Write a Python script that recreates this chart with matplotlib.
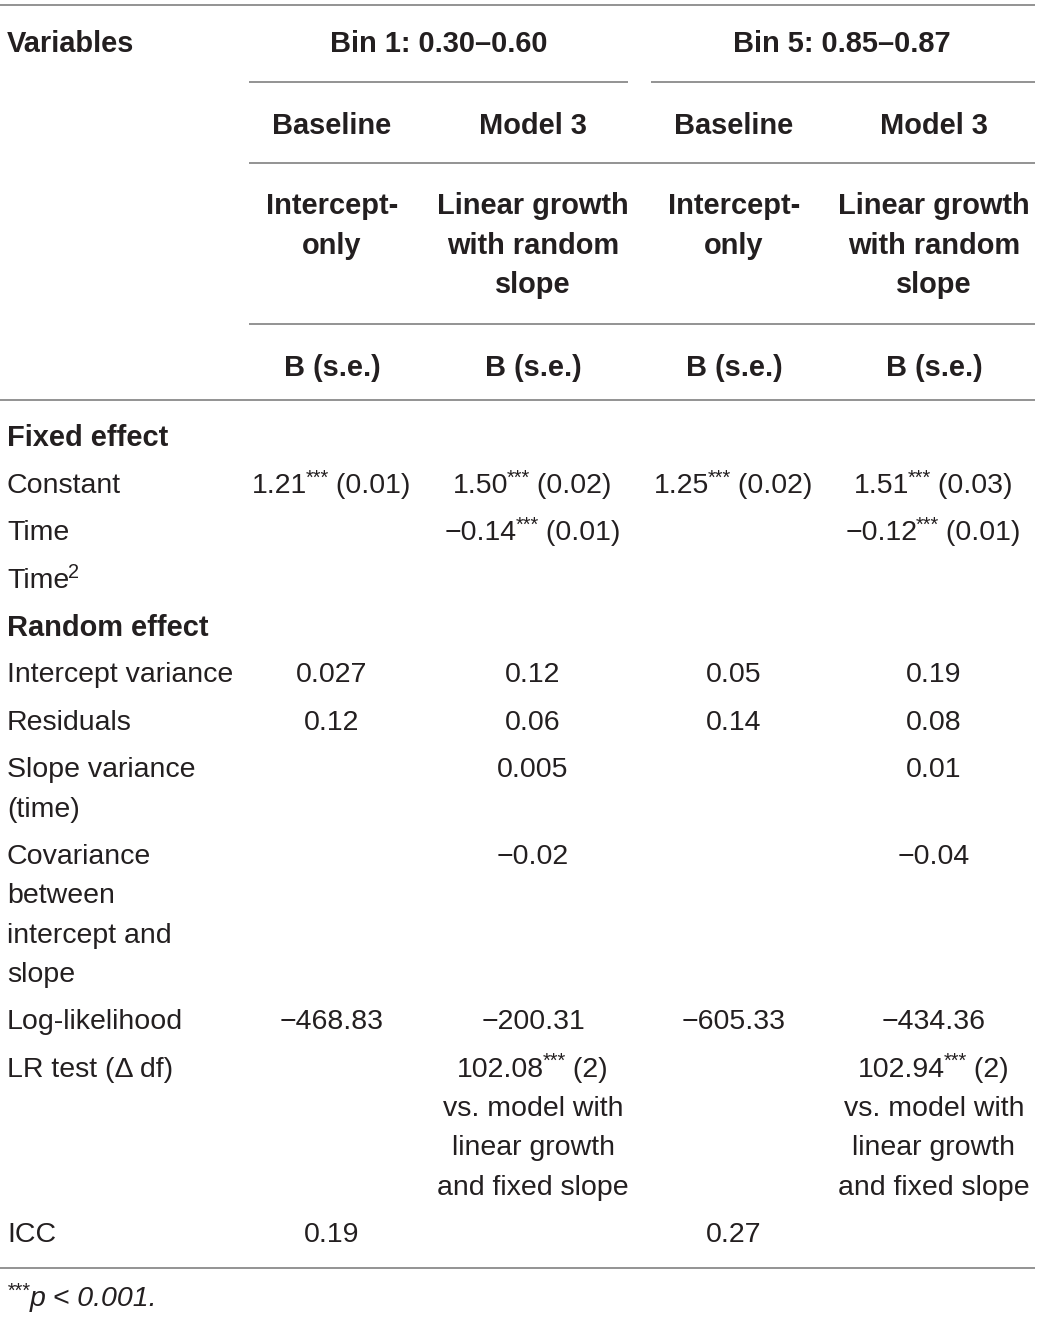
import matplotlib
matplotlib.use("Agg")
import matplotlib.pyplot as plt

# ---- table content ----
group_titles = ["Bin 1: 0.30–0.60", "Bin 5: 0.85–0.87"]
model_names = ["Baseline", "Model 3", "Baseline", "Model 3"]
model_desc = [
    ["Intercept-", "only"],
    ["Linear growth", "with random", "slope"],
    ["Intercept-", "only"],
    ["Linear growth", "with random", "slope"],
]
stat_label = "B (s.e.)"

row_labels = [
    ["Fixed effect"],
    ["Constant"],
    ["Time"],
    ["Time^2"],
    ["Random effect"],
    ["Intercept variance"],
    ["Residuals"],
    ["Slope variance", "(time)"],
    ["Covariance", "between", "intercept and", "slope"],
    ["Log-likelihood"],
    ["LR test (Δ df)"],
    ["ICC"],
]
section_rows = [0, 4]

lr_note = ["vs. model with", "linear growth", "and fixed slope"]
cells = [
    ["", "", "", ""],
    ["1.21*** (0.01)", "1.50*** (0.02)", "1.25*** (0.02)", "1.51*** (0.03)"],
    ["", "−0.14*** (0.01)", "", "−0.12*** (0.01)"],
    ["", "", "", ""],
    ["", "", "", ""],
    ["0.027", "0.12", "0.05", "0.19"],
    ["0.12", "0.06", "0.14", "0.08"],
    ["", "0.005", "", "0.01"],
    ["", "−0.02", "", "−0.04"],
    ["−468.83", "−200.31", "−605.33", "−434.36"],
    ["", "102.08*** (2)", "", "102.94*** (2)"],
    ["0.19", "", "0.27", ""],
]
footnote = "***p < 0.001."

# ---- layout ----
W, H = 1040, 1317
TXT = "#231f20"
LINE = "#8a8a8a"
FS = 20.5
FS_B = 20.9
FONT = "Liberation Sans"
col_x = [332, 533, 734, 934]
group_x = [439, 842]
label_x = 7
line_h = 39.3
row_gap = 47.4
dy = 2.5  # centre of bbox sits a bit above the visual middle

fig = plt.figure(figsize=(W / 100, H / 100), dpi=100)
ax = fig.add_axes([0, 0, 1, 1])
ax.set_xlim(0, W)
ax.set_ylim(H, 0)
ax.axis("off")
fig.canvas.draw()
renderer = fig.canvas.get_renderer()


def text_width(s, weight="normal", size=FS, style="normal"):
    t = ax.text(0, 0, s, fontsize=size, family=FONT, weight=weight, style=style)
    bb = t.get_window_extent(renderer=renderer)
    t.remove()
    return bb.width


def rich(x, y, s, ha="center", weight="normal", style="normal"):
    """draw text where '***' and '^2' become superscripts"""
    size = FS_B if weight == "bold" else FS
    parts = []
    for i, chunk in enumerate(s.split("***")):
        if i > 0:
            parts.append(("***", True))
        if "^" in chunk:
            a, b = chunk.split("^")
            parts.append((a, False))
            parts.append((b, True))
        elif chunk:
            parts.append((chunk, False))
    sizes = [size * 0.7 if sup else size for _, sup in parts]
    widths = [text_width(p, weight, sz, style) for (p, _), sz in zip(parts, sizes)]
    total = sum(widths)
    x0 = x - total / 2 if ha == "center" else x
    for (p, sup), sz, w in zip(parts, sizes, widths):
        ax.text(x0, y + dy - (8 if sup else 0), p, fontsize=sz, family=FONT,
                weight=weight, style=style, color=TXT, ha="left", va="center")
        x0 += w - 1


def bold(x, y, s, ha="center"):
    ax.text(x, y + dy, s, fontsize=FS_B, family=FONT, weight="bold",
            color=TXT, ha=ha, va="center")


def hline(y, x0=0, x1=1035):
    ax.plot([x0, x1], [y, y], color=LINE, lw=1.3, solid_capstyle="butt")


# header
bold(label_x, 41, "Variables", ha="left")
for gx, g in zip(group_x, group_titles):
    bold(gx, 41, g)
for cx, name, desc in zip(col_x, model_names, model_desc):
    bold(cx, 123, name)
    for k, line in enumerate(desc):
        bold(cx, 204 + k * line_h, line)
    bold(cx, 365, stat_label)

hline(5)
hline(82, 249, 628)
hline(82, 651, 1035)
hline(163, 249, 1035)
hline(324, 249, 1035)
hline(400)

# body
y = 436
for r, (lab, vals) in enumerate(zip(row_labels, cells)):
    wt = "bold" if r in section_rows else "normal"
    for k, line in enumerate(lab):
        rich(label_x, y + k * line_h, line, ha="left", weight=wt)
    n = len(lab)
    for cx, v in zip(col_x, vals):
        if v:
            rich(cx, y, v)
            if lab[0].startswith("LR test"):
                for k, line in enumerate(lr_note):
                    ax.text(cx, y + dy + (k + 1) * line_h, line, fontsize=FS,
                            family=FONT, color=TXT, ha="center", va="center")
                n = 1 + len(lr_note)
    y += row_gap + (n - 1) * line_h

hline(1268)
rich(7, 1297, footnote, ha="left", style="italic")

fig.savefig("out.png", dpi=100, facecolor="white")
